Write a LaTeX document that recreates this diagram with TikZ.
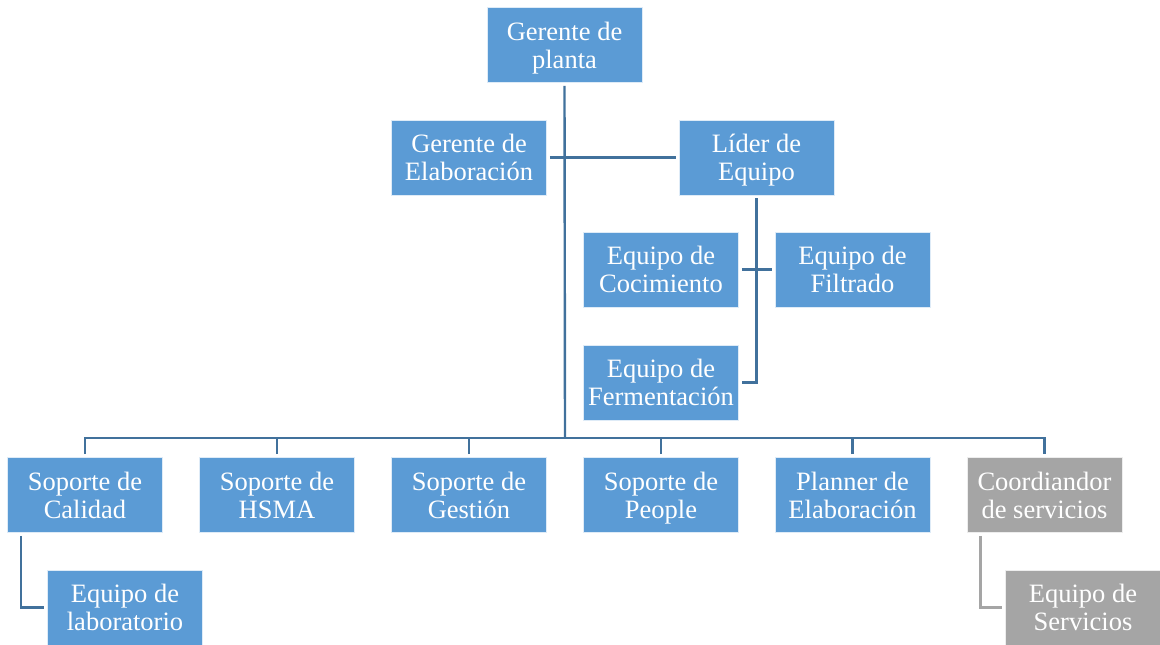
\documentclass[tikz,border=0pt]{standalone}
\usepackage{fontspec}
\setmainfont{Liberation Serif}
\usetikzlibrary{calc}
\definecolor{boxblue}{HTML}{5B9BD5}
\definecolor{boxgray}{HTML}{A5A5A5}
\definecolor{linkblue}{HTML}{41719C}
\definecolor{linkgray}{HTML}{A5A5A5}
\begin{document}
\begin{tikzpicture}[x=1pt,y=-1pt,
  unit/.style={rectangle, fill=boxblue, draw=white!80!boxblue, line width=0.8pt,
    minimum width=155pt, minimum height=75pt, inner sep=0pt, align=center,
    text=white, text depth=0pt, font=\fontsize{26.5}{27.7}\selectfont},
  grayunit/.style={unit, fill=boxgray, draw=white!80!boxgray},
  link/.style={draw=linkblue, line width=2.4pt},
  graylink/.style={draw=linkgray, line width=2.4pt}]
\useasboundingbox (0,0) rectangle (1160,645);

% top levels
\node[unit] (gp)  at (564.5,45)   {Gerente de\\planta};
\node[unit] (ge)  at (469,157.5)  {Gerente de\\Elaboración};
\node[unit] (le)  at (756.5,157.5){Líder de\\Equipo};

% teams under the team leader
\node[unit] (ec)  at (661,269.5)  {Equipo de\\Cocimiento};
\node[unit] (ef)  at (852.5,269.5){Equipo de\\Filtrado};
\node[unit] (efe) at (661,382.5)  {Equipo de\\Fermentación};

% support row
\node[unit] (s1) at (85,495)     {Soporte de\\Calidad};
\node[unit] (s2) at (277,495)    {Soporte de\\HSMA};
\node[unit] (s3) at (469,495)    {Soporte de\\Gestión};
\node[unit] (s4) at (661,495)    {Soporte de\\People};
\node[unit] (s5) at (852.5,495)  {Planner de\\Elaboración};
\node[grayunit] (s6) at (1044.5,495) {Coordiandor\\de servicios};

% bottom teams
\node[unit] (lab) at (125,607.5) {Equipo de\\laboratorio};
\node[grayunit] (srv) at (1083,607.5) {Equipo de\\Servicios};

% main trunk and bus
\coordinate (bus) at (565,438);
\draw[link] ($(gp.south)+(0,3)$) -- (bus);
\draw[link] ($(ge.east)+(3,0)$) -- ($(le.west)+(-3,0)$);
\draw[link, line join=miter]
  ($(s1.north)+(0,-3)$) |- (bus) -| ($(s6.north)+(0,-3)$);
\foreach \n in {s2,s3,s4,s5}
  \draw[link] ($(\n.north)+(0,-3)$) -- (\n.north |- bus);

% team leader branch
\coordinate (lt) at ($(le.south)+(0,3)$);
\draw[link, line join=miter] (lt) -- (lt |- efe.east) -- ($(efe.east)+(3,0)$);
\draw[link] ($(ec.east)+(3,0)$) -- ($(ef.west)+(-3,0)$);

% lower branches
\draw[link, line join=miter] ($(s1.south west)+(14,3)$) |- ($(lab.west)+(-3,0)$);
\draw[graylink, line join=miter] ($(s6.south west)+(14,3)$) |- ($(srv.west)+(-3,0)$);
\end{tikzpicture}
\end{document}
